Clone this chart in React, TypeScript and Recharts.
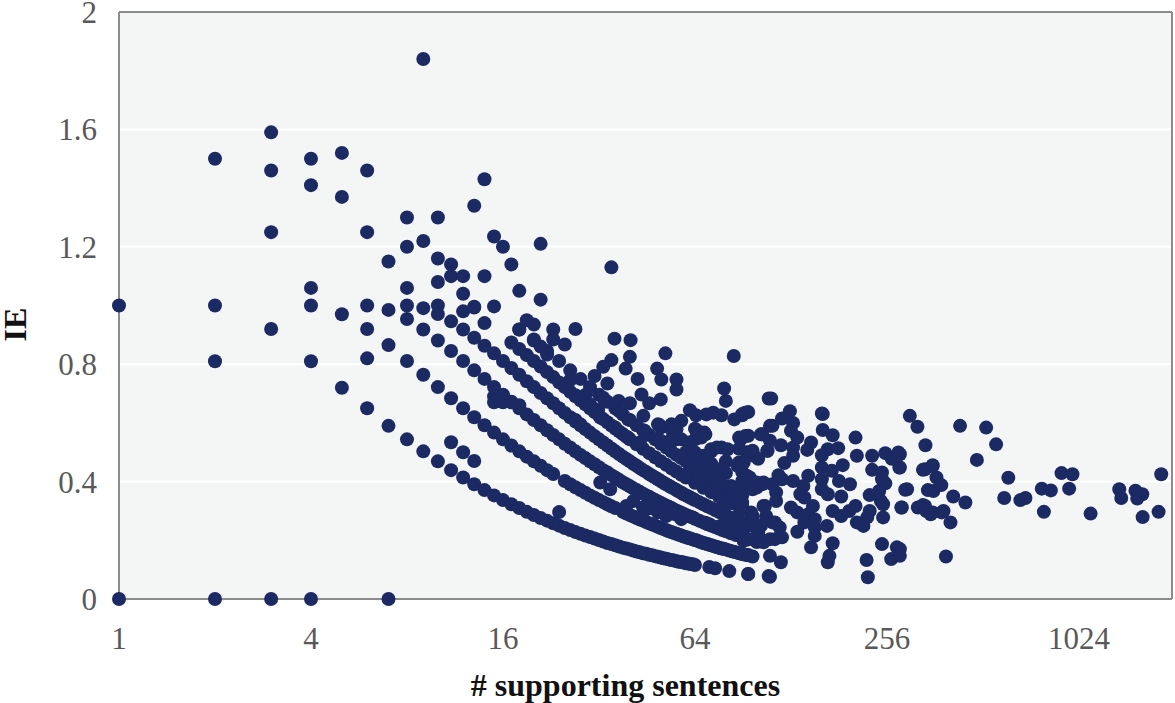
import React from 'react';
import { ScatterChart, Scatter, XAxis, YAxis, CartesianGrid, ReferenceLine } from 'recharts';

type Pt = [number, number];

const xTicks = [1, 4, 16, 64, 256, 1024];
const yTicks = [0, 0.4, 0.8, 1.2, 1.6, 2];

// few sentences, single dots
const sparseLeft: Pt[] = [
  [1, 1], [1, 0], [2, 1.5], [2, 1], [2, 0.81], [2, 0],
  [3, 1.59], [3, 1.46], [3, 1.25], [3, 0.92], [3, 0],
  [4, 1.5], [4, 1.41], [4, 1.06], [4, 1], [4, 0.81], [4, 0],
  [5, 1.52], [5, 1.37], [5, 0.97], [5, 0.72],
  [6, 1.46], [6, 1.25], [6, 1], [6, 0.92], [6, 0.82], [6, 0.65],
  [7, 1.15], [7, 0.985], [7, 0.865], [7, 0.59], [7, 0],
  [8, 1.3], [8, 1.2], [8, 1.06], [8, 1], [9, 1.84], [9, 1.22],
  [10, 1.3], [10, 1.16], [10, 1.08], [10, 1], [11, 1.14], [11, 1.1], [11, 0.534],
  [12, 1.1], [12, 1.04], [12, 0.5], [13, 1.34], [13, 0.993], [13, 0.47],
  [14, 1.43], [14, 1.1], [15, 1.235], [15, 0.997], [16, 1.2], [17, 1.14], [18, 1.05],
  [21, 1.21], [21, 1.02], [35, 1.13],
];

const curveOne: Pt[] = [
  [8, 0.544], [9, 0.503], [10, 0.469], [11, 0.439], [12, 0.414], [13, 0.391], [14, 0.371], [15, 0.353],
  [16, 0.337], [17, 0.323], [18, 0.31], [19, 0.297], [20, 0.286], [21, 0.276], [22, 0.267], [23, 0.258],
  [24, 0.296], [24, 0.25], [25, 0.242], [26, 0.235], [27, 0.228], [28, 0.222], [29, 0.216], [30, 0.211],
  [31, 0.206], [32, 0.201], [33, 0.196], [34, 0.191], [35, 0.187], [36, 0.183], [37, 0.179], [38, 0.175],
  [39, 0.172], [40, 0.169], [41, 0.165], [42, 0.162], [43, 0.159], [44, 0.156], [45, 0.154], [46, 0.151],
  [47, 0.149], [48, 0.146], [49, 0.144], [50, 0.141], [51, 0.139], [52, 0.137], [53, 0.135], [54, 0.133],
  [55, 0.131], [56, 0.129], [57, 0.127], [58, 0.126], [59, 0.124], [60, 0.122], [61, 0.121], [62, 0.119],
  [63, 0.118], [64, 0.116], [71, 0.109], [74, 0.105], [82, 0.095], [94, 0.085], [109, 0.078],
];

const curveTwo: Pt[] = [
  [8, 0.811], [9, 0.764], [10, 0.722], [11, 0.684], [12, 0.65], [13, 0.619], [14, 0.592], [15, 0.567],
  [16, 0.544], [17, 0.523], [18, 0.503], [19, 0.485], [20, 0.469], [21, 0.454], [22, 0.439], [23, 0.426],
  [25, 0.402], [26, 0.391], [27, 0.381], [28, 0.371], [29, 0.362], [30, 0.353], [31, 0.345], [32, 0.337],
  [33, 0.33], [34, 0.323], [35, 0.316], [36, 0.31], [38, 0.297], [39, 0.291], [40, 0.286], [41, 0.281],
  [42, 0.276], [43, 0.271], [44, 0.267], [45, 0.262], [46, 0.258], [47, 0.254], [48, 0.25], [49, 0.246],
  [50, 0.242], [51, 0.238], [52, 0.235], [53, 0.231], [54, 0.228], [55, 0.225], [56, 0.222], [57, 0.219],
  [58, 0.216], [59, 0.213], [60, 0.211], [61, 0.208], [62, 0.206], [63, 0.203], [64, 0.201], [65, 0.199],
  [66, 0.196], [67, 0.193], [68, 0.191], [69, 0.189], [70, 0.187], [71, 0.185], [72, 0.183], [73, 0.181],
  [74, 0.179], [75, 0.177], [76, 0.175], [77, 0.173], [78, 0.172], [79, 0.17], [80, 0.169], [82, 0.165],
  [84, 0.162], [86, 0.159], [88, 0.156], [90, 0.154], [92, 0.151], [94, 0.149], [97, 0.145],
];

const curveThree: Pt[] = [
  [8, 0.954], [9, 0.918], [10, 0.881], [11, 0.845], [12, 0.811], [13, 0.779], [14, 0.75], [15, 0.722],
  [16, 0.696], [17, 0.672], [18, 0.65], [19, 0.629], [20, 0.61], [21, 0.592], [22, 0.575], [23, 0.559],
  [24, 0.544], [25, 0.529], [26, 0.516], [27, 0.503], [28, 0.491], [29, 0.48], [30, 0.469], [31, 0.459],
  [32, 0.449], [33, 0.439], [34, 0.431], [35, 0.422], [36, 0.414], [37, 0.406], [38, 0.398], [39, 0.391],
  [40, 0.384], [41, 0.377], [42, 0.371], [43, 0.365], [44, 0.359], [45, 0.353], [46, 0.348], [47, 0.342],
  [48, 0.337], [49, 0.332], [50, 0.327], [51, 0.323], [52, 0.318], [53, 0.314], [54, 0.31], [55, 0.305],
  [56, 0.301], [57, 0.297], [58, 0.294], [59, 0.29], [60, 0.286], [62, 0.28], [64, 0.273], [66, 0.267],
  [68, 0.261], [70, 0.255], [72, 0.25], [74, 0.245], [76, 0.24], [78, 0.235], [80, 0.231], [83, 0.224],
  [86, 0.218], [90, 0.21], [94, 0.203], [100, 0.194],
];

const curveFour: Pt[] = [
  [9, 0.991], [10, 0.971], [11, 0.946], [12, 0.918], [13, 0.89], [14, 0.863], [15, 0.837], [16, 0.811],
  [17, 0.787], [18, 0.764], [19, 0.742], [20, 0.722], [21, 0.702], [22, 0.684], [23, 0.667], [24, 0.65],
  [25, 0.634], [26, 0.619], [27, 0.605], [28, 0.592], [29, 0.579], [30, 0.567], [31, 0.555], [32, 0.544],
  [33, 0.533], [34, 0.523], [35, 0.513], [36, 0.503], [37, 0.494], [38, 0.485], [39, 0.477], [40, 0.469],
  [41, 0.461], [42, 0.454], [43, 0.446], [44, 0.439], [45, 0.433], [46, 0.426], [47, 0.42], [48, 0.414],
  [49, 0.408], [50, 0.402], [51, 0.396], [52, 0.391], [53, 0.386], [54, 0.381], [55, 0.376], [56, 0.371],
  [57, 0.366], [58, 0.362], [59, 0.357], [60, 0.353], [61, 0.349], [62, 0.345], [63, 0.341], [64, 0.337],
  [66, 0.33], [68, 0.323], [70, 0.316], [72, 0.31], [74, 0.303], [76, 0.297], [78, 0.291], [80, 0.286],
  [84, 0.276], [88, 0.267], [92, 0.258], [96, 0.25],
];

const curveFive: Pt[] = [
  [12, 0.98], [14, 0.94], [17, 0.874], [18, 0.852], [19, 0.831],
  [20, 0.811], [21, 0.792], [22, 0.773], [23, 0.756], [24, 0.738], [25, 0.722], [26, 0.706], [27, 0.691],
  [28, 0.677], [29, 0.663], [30, 0.65], [31, 0.637], [32, 0.625], [33, 0.613], [34, 0.602], [35, 0.591],
  [36, 0.581], [37, 0.571], [38, 0.562], [39, 0.553], [40, 0.544], [42, 0.527], [44, 0.512], [46, 0.497],
  [48, 0.483], [50, 0.469], [52, 0.457], [54, 0.445], [56, 0.434], [58, 0.423], [60, 0.414], [64, 0.396],
  [68, 0.379], [72, 0.364], [76, 0.35], [80, 0.337], [84, 0.326], [90, 0.31], [96, 0.295],
];

const curveSix: Pt[] = [
  [13, 0.996], [18, 0.918], [20, 0.881], [22, 0.845],
  [24, 0.811], [26, 0.779], [28, 0.75], [30, 0.722], [32, 0.696], [34, 0.672], [36, 0.65], [38, 0.629],
  [40, 0.61], [42, 0.592], [44, 0.575], [46, 0.559], [48, 0.544], [50, 0.529], [52, 0.516], [54, 0.503],
  [56, 0.491], [58, 0.48], [60, 0.469], [64, 0.449], [68, 0.431], [72, 0.414], [76, 0.398], [80, 0.384],
  [84, 0.371], [90, 0.353],
];

const curveSeven: Pt[] = [
  [50, 0.584], [56, 0.544], [64, 0.499], [72, 0.461], [80, 0.429], [90, 0.392],
  [64, 0.544], [72, 0.503], [80, 0.469], [90, 0.433],
];

// loose dots in the 16 to 90 range, above and between the curves
const scatterMiddle: Pt[] = [
  [15, 0.69], [15, 0.67], [16, 0.69], [16, 0.67], [17, 0.67], [18, 0.66],
  [18, 0.918], [19, 0.95], [20, 0.935], [20, 0.884], [21, 0.86], [22, 0.833], [23, 0.918], [23, 0.884], [25, 0.867], [27, 0.92],
  [35.8, 0.887], [40.2, 0.882], [51.7, 0.837], [84.7, 0.828], [40, 0.825], [35, 0.814], [33, 0.791], [31, 0.76],
  [38.8, 0.785], [42.3, 0.75], [34, 0.734], [48.7, 0.785], [50.2, 0.748], [56, 0.748], [56, 0.714], [26, 0.746],
  [79, 0.717], [80, 0.675], [111, 0.683], [27, 0.694], [29, 0.695], [33, 0.686], [43.5, 0.697], [36.9, 0.675],
  [40, 0.667], [46, 0.667], [50, 0.68], [30, 0.663], [31.8, 0.646], [37, 0.64], [44.1, 0.624], [39.5, 0.612],
  [32.3, 0.618], [61.7, 0.643], [64.5, 0.626], [69.5, 0.629], [73, 0.635], [77.5, 0.626], [85, 0.612], [90, 0.626],
  [94, 0.637], [27, 0.61], [28, 0.595], [36, 0.584], [49.5, 0.593], [58, 0.607], [54, 0.595], [56, 0.578],
  [44.5, 0.573], [39.5, 0.55], [43, 0.533], [55, 0.55], [64, 0.58], [68.5, 0.567], [67, 0.55], [88, 0.55],
  [94, 0.556], [103, 0.561], [50, 0.533], [61, 0.533], [72, 0.51], [77.5, 0.516], [88, 0.512], [97, 0.505], [110, 0.59],
  [32.3, 0.397], [34.7, 0.374], [41, 0.334], [39, 0.317], [45, 0.306], [47, 0.31], [52, 0.283], [58, 0.272], [61, 0.283],
  [49, 0.295], [55, 0.29], [69, 0.26], [71, 0.255],
  [87, 0.454], [93, 0.42], [100, 0.38], [90, 0.329], [87, 0.283], [96, 0.283], [103, 0.249], [110, 0.204], [90, 0.21],
  [75, 0.374], [80, 0.34], [75.6, 0.306], [81, 0.272], [71, 0.408], [66, 0.42], [60, 0.425], [68.5, 0.454], [75, 0.442],
];

// the solid patch between 45 and 120
const scatterPatch: Pt[] = [
  [49, 0.595], [54, 0.578], [54, 0.544], [50, 0.539], [58, 0.544], [65, 0.573], [69, 0.561], [75, 0.516], [81, 0.51],
  [68, 0.488], [60, 0.5], [64, 0.465], [71, 0.465], [77, 0.442], [60, 0.425], [67, 0.408], [83, 0.385], [71, 0.42],
  [89, 0.544], [88, 0.465], [98, 0.488], [108, 0.505], [93, 0.5], [90, 0.402], [97, 0.374], [105, 0.397], [120, 0.408],
  [87, 0.334], [89, 0.306], [105, 0.317], [114, 0.261], [97, 0.278], [101, 0.227], [114, 0.204], [83, 0.34], [79, 0.317],
  [70, 0.255], [77, 0.249], [84, 0.244], [89, 0.215], [91, 0.198], [44, 0.312], [49, 0.306], [54, 0.295], [57, 0.283], [63, 0.278],
];

const scatterDense: Pt[] = [
  [109, 0.683], [92, 0.635], [90, 0.63], [127, 0.64], [120, 0.615], [112, 0.59], [130, 0.6], [128, 0.573],
  [161, 0.63], [160, 0.632], [161, 0.576], [173, 0.558], [204, 0.55], [92, 0.555], [104, 0.561], [134, 0.55],
  [110, 0.539], [119, 0.524], [148, 0.533], [130, 0.516], [144, 0.508], [167, 0.51], [180, 0.514], [108, 0.505],
  [95, 0.499], [101, 0.478], [130, 0.488], [160, 0.49], [206, 0.488], [230, 0.488], [253, 0.497], [278, 0.499],
  [265, 0.478], [280, 0.448], [122, 0.463], [91, 0.465], [186, 0.456], [160, 0.448], [172, 0.437], [337, 0.442],
  [356, 0.456], [230, 0.44], [247, 0.431], [247, 0.408], [117, 0.422], [145, 0.42], [95, 0.414], [100, 0.397],
  [104, 0.391], [130, 0.402], [160, 0.408], [181, 0.402], [196, 0.391], [253, 0.394], [112, 0.391], [140, 0.385],
  [137, 0.357], [141, 0.346], [160, 0.374], [167, 0.357], [184, 0.349], [115, 0.363], [115, 0.334], [106, 0.317],
  [226, 0.354], [242, 0.368], [245, 0.334], [296, 0.374], [358, 0.368], [150, 0.317], [204, 0.317], [195, 0.3],
  [249, 0.323], [249, 0.278], [226, 0.3], [222, 0.278], [285, 0.312], [337, 0.317], [356, 0.295], [385, 0.3],
  [128, 0.312], [134, 0.295], [97, 0.283], [107, 0.283], [145, 0.289], [173, 0.3], [184, 0.283], [166, 0.249],
  [152, 0.272], [141, 0.261], [206, 0.261], [216, 0.249], [112, 0.261], [118, 0.244], [134, 0.229], [152, 0.244],
  [101, 0.227], [102, 0.249], [120, 0.21], [152, 0.215], [105, 0.193], [148, 0.176], [173, 0.19], [247, 0.187],
  [275, 0.176], [264, 0.136], [169, 0.147], [167, 0.125], [221, 0.133], [223, 0.074], [110, 0.147], [119, 0.125],
  [94, 0.15], [90, 0.153], [94, 0.085], [110, 0.076], [91, 0.249], [91, 0.215], [90, 0.317],
];

const scatterRight: Pt[] = [
  [302, 0.624], [319, 0.587], [434, 0.59], [524, 0.584], [563, 0.527], [338, 0.524], [490, 0.474], [615, 0.413],
  [903, 0.429], [977, 0.425], [1855, 0.425], [281, 0.493], [281, 0.448], [332, 0.44], [356, 0.453], [366, 0.414],
  [379, 0.388], [344, 0.371], [292, 0.372], [413, 0.349], [451, 0.329], [597, 0.344], [671, 0.337], [696, 0.344],
  [783, 0.376], [836, 0.37], [954, 0.376], [1370, 0.374], [1390, 0.344], [1540, 0.369], [1618, 0.357], [1560, 0.342],
  [795, 0.297], [1114, 0.291], [1622, 0.279], [1820, 0.297], [332, 0.32], [320, 0.312], [340, 0.3], [351, 0.289],
  [380, 0.295], [405, 0.261], [284, 0.312], [392, 0.145], [281, 0.17], [281, 0.147],
];

const toRows = (pts: Pt[]) => pts.map(([sentences, ie]) => ({ sentences, ie }));

const allPoints = toRows([
  ...sparseLeft, ...curveOne, ...curveTwo, ...curveThree, ...curveFour, ...curveFive, ...curveSix, ...curveSeven,
  ...scatterMiddle, ...scatterPatch, ...scatterDense, ...scatterRight,
]);

const DOT = '#1b2a63';
const FRAME = '#8c8c8c';
const SERIF = '"Liberation Serif", serif';

const Dot = (props: any) => <circle cx={props.cx} cy={props.cy} r={7} fill={DOT} />;

const tickStyle = { fontFamily: SERIF, fontSize: 31, fill: '#595959' };
const titleStyle = { fontFamily: SERIF, fontSize: 32, fontWeight: 700, fill: '#111' };

export default function App() {
  return (
    <div style={{ position: 'absolute', left: 0, top: 0, width: 1175, height: 703, background: '#fff' }}>
      <ScatterChart width={1175} height={703} margin={{ top: 12, right: 3, bottom: 0, left: 0 }}>
        <CartesianGrid horizontal vertical={false} stroke="#ffffff" strokeWidth={2} fill="#f4f6f6" />
        <XAxis
          dataKey="sentences"
          type="number"
          scale="log"
          domain={[1, 2005]}
          ticks={xTicks}
          height={104}
          tickLine={false}
          tickMargin={22}
          interval={0}
          stroke={FRAME}
          strokeWidth={2}
          tick={tickStyle}
          label={{ value: '# supporting sentences', position: 'insideTop', dx: -20, dy: 69, style: titleStyle }}
        />
        <YAxis
          dataKey="ie"
          type="number"
          domain={[0, 2]}
          ticks={yTicks}
          width={119}
          tickLine={false}
          tickMargin={16}
          interval={0}
          stroke={FRAME}
          strokeWidth={2}
          tick={tickStyle}
          label={{ value: 'IE', angle: -90, position: 'insideLeft', dx: 10, dy: 36, style: titleStyle }}
        />
        <ReferenceLine y={2} stroke={FRAME} strokeWidth={2} />
        <ReferenceLine x={2005} stroke={FRAME} strokeWidth={2} />
        <Scatter data={allPoints} shape={Dot} isAnimationActive={false} />
      </ScatterChart>
    </div>
  );
}
